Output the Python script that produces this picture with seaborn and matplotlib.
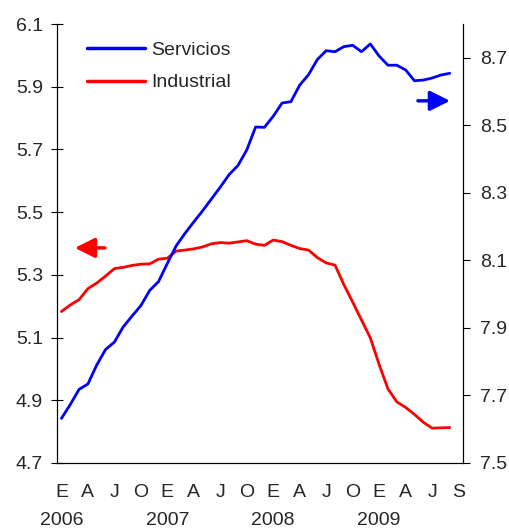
import numpy as np
import pandas as pd
import matplotlib
matplotlib.use('Agg')
import matplotlib.pyplot as plt
from matplotlib.lines import Line2D
import seaborn as sns

# monthly data, Jan 2006 - Sep 2009
industrial = [5.183, 5.204, 5.221, 5.256, 5.274, 5.296, 5.320, 5.324, 5.330, 5.334,
              5.335, 5.350, 5.353, 5.376, 5.379, 5.383, 5.389, 5.399, 5.403, 5.401,
              5.405, 5.409, 5.398, 5.394, 5.411, 5.406, 5.394, 5.384, 5.379, 5.355,
              5.338, 5.331, 5.269, 5.213, 5.156, 5.099, 5.014, 4.936, 4.895, 4.877,
              4.855, 4.830, 4.811, 4.812, 4.813]
servicios = [7.632, 7.673, 7.718, 7.734, 7.790, 7.836, 7.858, 7.903, 7.935, 7.966,
             8.011, 8.037, 8.091, 8.143, 8.180, 8.214, 8.247, 8.282, 8.317, 8.354,
             8.381, 8.427, 8.495, 8.494, 8.527, 8.566, 8.570, 8.619, 8.650, 8.695,
             8.721, 8.718, 8.733, 8.737, 8.718, 8.741, 8.705, 8.678, 8.678, 8.664,
             8.632, 8.634, 8.640, 8.649, 8.654]
n_cat = 46  # axis runs Jan 2006 - Oct 2009
tick_pos = [0, 3, 6, 9, 12, 15, 18, 21, 24, 27, 30, 33, 36, 39, 42, 45]
tick_lab = ['E', 'A', 'J', 'O', 'E', 'A', 'J', 'O', 'E', 'A', 'J', 'O', 'E', 'A', 'J', 'S']
year_pos = [0, 12, 24, 36]
year_lab = ['2006', '2007', '2008', '2009']
left_ticks = [4.7, 4.9, 5.1, 5.3, 5.5, 5.7, 5.9, 6.1]
right_ticks = [7.5, 7.7, 7.9, 8.1, 8.3, 8.5, 8.7]

df = pd.DataFrame({'mes': np.arange(len(industrial)), 'Industrial': industrial, 'Servicios': servicios})

sns.set_style('white')
plt.rcParams['font.family'] = ['Liberation Sans', 'DejaVu Sans']
plt.rcParams['font.size'] = 14

fig = plt.figure(figsize=(5.09, 5.29), dpi=100)
ax = fig.add_axes([0.112, 0.1248, 0.7976, 0.8298])
ax2 = ax.twinx()

sns.lineplot(data=df, x='mes', y='Industrial', ax=ax, color='#ff0000', lw=2.0)
sns.lineplot(data=df, x='mes', y='Servicios', ax=ax2, color='#0000ff', lw=2.0)

ax.set_xlim(-0.5, n_cat - 0.5)
ax.set_ylim(4.7, 6.1)
ax2.set_ylim(7.5, 8.8)
ax.set_yticks(left_ticks)
ax.set_yticklabels([f'{v:.1f}' for v in left_ticks])
ax2.set_yticks(right_ticks)
ax2.set_yticklabels([f'{v:.1f}' for v in right_ticks])
ax.set_xticks(tick_pos)
ax.set_xticklabels(tick_lab)
ax.set_xticks(np.arange(-0.5, n_cat, 1), minor=True)
ax.tick_params(axis='x', which='major', length=0, pad=15, labelsize=14)
ax.tick_params(axis='x', which='minor', length=4, width=0.8, direction='out', color='black')
ax.tick_params(axis='y', length=8, width=0.8, direction='inout', pad=6, labelsize=14, color='black')
ax2.tick_params(axis='y', length=5, width=0.8, direction='out', pad=7, labelsize=14, color='black')
for a in (ax, ax2):
    a.set_xlabel('')
    a.set_ylabel('')
    a.spines['top'].set_visible(False)
    for s in ('left', 'right', 'bottom'):
        a.spines[s].set_color('black')
        a.spines[s].set_linewidth(0.8)
    a.grid(False)

# year row under the month letters
for p, lab in zip(year_pos, year_lab):
    ax.text(p, -0.13, lab, transform=ax.get_xaxis_transform(), ha='center', va='center', fontsize=14)

handles = [Line2D([], [], color='#0000ff', lw=2.5), Line2D([], [], color='#ff0000', lw=2.5)]
ax2.legend(handles, ['Servicios', 'Industrial'], loc='upper left', bbox_to_anchor=(0.03, 1.0),
           frameon=False, fontsize=14, handlelength=3.0, handletextpad=0.3, labelspacing=0.75)

ax.annotate('', xy=(0.044, 0.49), xytext=(0.118, 0.49), xycoords='axes fraction',
            arrowprops=dict(arrowstyle='-|>,head_length=0.6,head_width=0.3', color='#ff0000',
                            lw=2.5, mutation_scale=20, shrinkA=0, shrinkB=0))
ax2.annotate('', xy=(0.968, 0.825), xytext=(0.889, 0.825), xycoords='axes fraction',
             arrowprops=dict(arrowstyle='-|>,head_length=0.6,head_width=0.3', color='#0000ff',
                             lw=2.5, mutation_scale=20, shrinkA=0, shrinkB=0))

fig.savefig('out.png', dpi=100)
